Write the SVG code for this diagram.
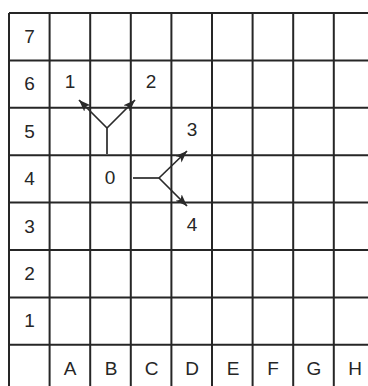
<svg xmlns="http://www.w3.org/2000/svg" width="368" height="386" viewBox="0 0 368 386">
<style>
.grid{stroke:#262626;stroke-width:2;fill:none}
.t{font-family:"Liberation Sans",Arial,sans-serif;font-size:19px;fill:#262626;text-anchor:middle}
.c{stroke:#2a2a2a;stroke-width:1.7;fill:none}
</style>
<defs>
<marker id="ah" markerUnits="userSpaceOnUse" markerWidth="14" markerHeight="10" refX="12" refY="4.5" orient="auto">
<path d="M0,0 L12,4.5 L0,9 L3,4.5 z" fill="#2a2a2a"/>
</marker>
</defs>
<rect width="368" height="386" fill="#ffffff"/>
<g id="grid" class="grid">
<line x1="9" y1="13" x2="9" y2="392"/>
<line x1="49.6" y1="13" x2="49.6" y2="392"/>
<line x1="90.2" y1="13" x2="90.2" y2="392"/>
<line x1="130.8" y1="13" x2="130.8" y2="392"/>
<line x1="171.4" y1="13" x2="171.4" y2="392"/>
<line x1="212" y1="13" x2="212" y2="392"/>
<line x1="252.6" y1="13" x2="252.6" y2="392"/>
<line x1="293.2" y1="13" x2="293.2" y2="392"/>
<line x1="333.8" y1="13" x2="333.8" y2="392"/>
<line x1="9" y1="13" x2="375" y2="13"/>
<line x1="9" y1="60.4" x2="375" y2="60.4"/>
<line x1="9" y1="107.8" x2="375" y2="107.8"/>
<line x1="9" y1="155.2" x2="375" y2="155.2"/>
<line x1="9" y1="202.6" x2="375" y2="202.6"/>
<line x1="9" y1="250" x2="375" y2="250"/>
<line x1="9" y1="297.4" x2="375" y2="297.4"/>
<line x1="9" y1="344.8" x2="375" y2="344.8"/>
</g>
<g id="row-labels" class="t">
<text x="29.5" y="43">7</text>
<text x="29.5" y="90">6</text>
<text x="29.5" y="137.5">5</text>
<text x="29.5" y="185">4</text>
<text x="29.5" y="232.5">3</text>
<text x="29.5" y="280">2</text>
<text x="29.5" y="327">1</text>
</g>
<g id="col-labels" class="t">
<text x="70" y="375">A</text>
<text x="111" y="375">B</text>
<text x="151.5" y="375">C</text>
<text x="192" y="375">D</text>
<text x="233" y="375">E</text>
<text x="273" y="375">F</text>
<text x="314" y="375">G</text>
<text x="355" y="375">H</text>
</g>
<g id="connectors" class="c">
<line x1="107" y1="154" x2="107" y2="128"/>
<line x1="107" y1="128" x2="79" y2="100" marker-end="url(#ah)"/>
<line x1="107" y1="128" x2="135" y2="100" marker-end="url(#ah)"/>
<line x1="133" y1="178" x2="159" y2="178"/>
<line x1="159" y1="178" x2="187" y2="151" marker-end="url(#ah)"/>
<line x1="159" y1="178" x2="187" y2="206" marker-end="url(#ah)"/>
</g>
<g id="node-0" class="t"><text x="110" y="184">0</text></g>
<g id="node-1" class="t"><text x="70" y="88">1</text></g>
<g id="node-2" class="t"><text x="151" y="88">2</text></g>
<g id="node-3" class="t"><text x="192" y="136">3</text></g>
<g id="node-4" class="t"><text x="192" y="231">4</text></g>
</svg>
